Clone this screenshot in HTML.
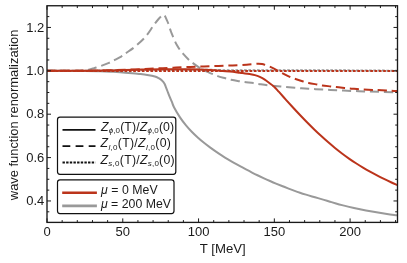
<!DOCTYPE html>
<html><head><meta charset="utf-8"><style>
html,body{margin:0;padding:0;background:#fff;}
svg{display:block;font-family:"Liberation Sans",sans-serif;}
</style></head><body>
<svg width="407" height="263" viewBox="0 0 407 263">
<rect width="407" height="263" fill="#fff"/>
<g fill="none" stroke-width="2.0" stroke-linejoin="round">
<path d="M47.00 70.85 C53.33 70.87 76.17 70.88 85.00 70.95 C93.83 71.03 95.83 71.17 100.00 71.30 C104.17 71.42 106.67 71.53 110.00 71.70 C113.33 71.87 116.33 72.05 120.00 72.30 C123.67 72.55 128.73 72.92 132.00 73.20 C135.27 73.48 137.07 73.70 139.60 74.00 C142.13 74.30 144.66 74.58 147.20 75.00 C149.74 75.42 152.94 75.97 154.85 76.50 C156.76 77.03 157.51 77.57 158.65 78.20 C159.79 78.83 160.74 79.43 161.70 80.30 C162.66 81.17 163.70 82.25 164.40 83.40 C165.10 84.55 165.40 85.93 165.90 87.20 C166.40 88.47 166.78 89.43 167.40 91.00 C168.02 92.57 168.85 94.78 169.60 96.60 C170.35 98.42 171.17 100.13 171.90 101.90 C172.63 103.67 172.65 104.67 174.00 107.24 C175.35 109.82 178.00 114.32 180.00 117.33 C182.00 120.35 184.00 122.88 186.00 125.31 C188.00 127.75 190.00 129.88 192.00 131.93 C194.00 133.99 196.00 135.84 198.00 137.64 C200.00 139.44 202.00 141.10 204.00 142.71 C206.00 144.33 208.00 145.85 210.00 147.33 C212.00 148.80 214.00 150.21 216.00 151.59 C218.00 152.96 220.00 154.28 222.00 155.56 C224.00 156.85 226.00 158.10 228.00 159.31 C230.00 160.53 232.00 161.71 234.00 162.86 C236.00 164.02 238.00 165.14 240.00 166.24 C242.00 167.34 244.00 168.41 246.00 169.46 C248.00 170.51 250.00 171.54 252.00 172.54 C254.00 173.55 256.00 174.53 258.00 175.49 C260.00 176.45 262.00 177.39 264.00 178.31 C266.00 179.23 268.00 180.12 270.00 181.00 C272.00 181.88 274.00 182.75 276.00 183.59 C278.00 184.43 280.00 185.25 282.00 186.05 C284.00 186.86 286.00 187.64 288.00 188.41 C290.00 189.17 292.00 189.91 294.00 190.63 C296.00 191.34 298.00 192.04 300.00 192.70 C302.00 193.37 304.00 194.00 306.00 194.62 C308.00 195.24 310.00 195.83 312.00 196.42 C314.00 197.00 316.00 197.57 318.00 198.15 C320.00 198.73 322.00 199.31 324.00 199.90 C326.00 200.49 328.00 201.09 330.00 201.68 C332.00 202.27 334.00 202.87 336.00 203.44 C338.00 204.01 340.00 204.57 342.00 205.10 C344.00 205.63 346.00 206.14 348.00 206.62 C350.00 207.10 352.00 207.56 354.00 208.01 C356.00 208.45 358.00 208.87 360.00 209.28 C362.00 209.69 364.00 210.08 366.00 210.46 C368.00 210.84 370.00 211.20 372.00 211.56 C374.00 211.91 376.00 212.25 378.00 212.58 C380.00 212.90 382.00 213.22 384.00 213.52 C386.00 213.82 388.00 214.11 390.00 214.39 C392.00 214.67 394.75 215.02 396.00 215.18 C397.25 215.35 397.25 215.34 397.50 215.37" stroke="#999999"/>
<path d="M47.00 70.80 C51.67 70.80 69.17 70.83 75.00 70.80 C80.83 70.77 80.00 70.70 82.00 70.60 C84.00 70.50 85.00 70.60 87.00 70.20 C89.00 69.80 91.67 68.92 94.00 68.20 C96.33 67.48 98.52 66.78 101.00 65.90 C103.48 65.02 106.77 63.82 108.90 62.90 C111.03 61.98 111.75 61.45 113.80 60.40 C115.85 59.35 119.25 57.75 121.20 56.60 C123.15 55.45 123.42 54.98 125.50 53.50 C127.58 52.02 131.78 49.12 133.70 47.70 C135.62 46.28 135.33 46.50 137.00 45.00 C138.67 43.50 142.03 40.37 143.70 38.70 C145.37 37.03 145.53 36.95 147.00 35.00 C148.47 33.05 151.17 28.92 152.50 27.00 C153.83 25.08 153.92 24.92 155.00 23.50 C156.08 22.08 157.72 19.98 159.00 18.50 C160.28 17.02 162.08 15.25 162.70 14.60 C163.03 14.77 164.08 14.83 164.70 15.60 C165.32 16.37 165.83 17.97 166.40 19.20 C166.97 20.43 167.57 21.60 168.10 23.00 C168.63 24.40 169.10 26.10 169.60 27.60 C170.10 29.10 170.58 30.62 171.10 32.00 C171.62 33.38 172.10 34.45 172.70 35.90 C173.30 37.35 173.98 39.13 174.70 40.70 C175.42 42.27 176.12 43.75 177.00 45.30 C177.88 46.85 179.00 48.60 180.00 50.00 C181.00 51.40 181.70 52.23 183.00 53.70 C184.30 55.17 186.35 57.38 187.80 58.80 C189.25 60.22 189.85 60.78 191.70 62.20 C193.55 63.62 196.58 65.80 198.90 67.30 C201.22 68.80 203.37 70.10 205.60 71.20 C207.83 72.30 210.28 73.08 212.30 73.90 C214.32 74.72 215.50 75.37 217.70 76.10 C219.90 76.83 223.28 77.68 225.50 78.30 C227.72 78.92 228.78 79.32 231.00 79.80 C233.22 80.28 236.53 80.83 238.80 81.20 C241.07 81.57 242.17 81.68 244.60 82.00 C247.03 82.32 251.07 82.78 253.40 83.10 C255.73 83.42 256.15 83.53 258.60 83.90 C261.05 84.27 264.42 84.87 268.10 85.30 C271.78 85.73 276.23 86.08 280.70 86.50 C285.17 86.92 290.25 87.42 294.90 87.80 C299.55 88.18 303.92 88.50 308.60 88.80 C313.28 89.10 318.32 89.35 323.00 89.60 C327.68 89.85 332.07 90.08 336.70 90.30 C341.33 90.52 346.18 90.72 350.80 90.90 C355.42 91.08 359.83 91.25 364.40 91.40 C368.97 91.55 373.53 91.67 378.20 91.80 C382.87 91.93 389.18 92.12 392.40 92.20 C395.62 92.28 396.65 92.28 397.50 92.30" stroke="#999999" stroke-dasharray="9.1 4.88" id="gd" stroke-linejoin="miter" stroke-dashoffset="1.0"/>
<path d="M47 70.85 L100 70.6 L140 69.9 L210 69.8 L225 70.2 L330 70.25 L397.5 70.7" stroke="#999999" stroke-dasharray="2.7 1.61" stroke-dashoffset="1.2"/>
<path d="M47.00 70.85 C51.67 70.85 67.83 70.87 75.00 70.85 C82.17 70.83 85.00 70.80 90.00 70.75 C95.00 70.70 100.00 70.64 105.00 70.55 C110.00 70.46 115.00 70.33 120.00 70.20 C125.00 70.08 130.50 69.92 135.00 69.80 C139.50 69.68 142.83 69.58 147.00 69.50 C151.17 69.42 155.33 69.38 160.00 69.35 C164.67 69.32 170.00 69.30 175.00 69.30 C180.00 69.30 185.83 69.31 190.00 69.35 C194.17 69.39 196.67 69.44 200.00 69.55 C203.33 69.66 206.67 69.81 210.00 70.00 C213.33 70.19 216.67 70.43 220.00 70.70 C223.33 70.97 226.67 71.25 230.00 71.60 C233.33 71.95 237.50 72.50 240.00 72.80 C242.50 73.10 243.38 73.18 245.00 73.40 C246.62 73.62 248.05 73.82 249.70 74.10 C251.35 74.38 253.22 74.63 254.90 75.10 C256.58 75.57 258.16 76.15 259.80 76.90 C261.44 77.65 263.10 78.53 264.75 79.60 C266.40 80.67 268.06 82.03 269.70 83.30 C271.34 84.57 273.05 85.76 274.60 87.20 C276.15 88.64 277.10 89.85 279.00 91.95 C280.90 94.05 283.67 97.22 286.00 99.81 C288.33 102.41 290.67 104.99 293.00 107.53 C295.33 110.07 297.67 112.58 300.00 115.04 C302.33 117.50 304.67 119.93 307.00 122.29 C309.33 124.66 311.67 126.98 314.00 129.24 C316.33 131.50 318.67 133.71 321.00 135.85 C323.33 138.00 325.67 140.08 328.00 142.10 C330.33 144.12 332.67 146.08 335.00 147.97 C337.33 149.87 339.67 151.69 342.00 153.46 C344.33 155.22 346.67 156.92 349.00 158.56 C351.33 160.19 353.67 161.76 356.00 163.28 C358.33 164.79 360.67 166.24 363.00 167.64 C365.33 169.04 367.67 170.38 370.00 171.68 C372.33 172.98 374.67 174.22 377.00 175.42 C379.33 176.63 381.67 177.79 384.00 178.92 C386.33 180.05 388.75 181.18 391.00 182.22 C393.25 183.27 396.42 184.68 397.50 185.17" stroke="#bb341b"/>
<path d="M47.00 70.85 C52.50 70.84 71.17 70.86 80.00 70.80 C88.83 70.74 94.17 70.62 100.00 70.50 C105.83 70.38 110.00 70.25 115.00 70.10 C120.00 69.95 125.00 69.78 130.00 69.60 C135.00 69.42 140.83 69.18 145.00 69.00 C149.17 68.82 152.00 68.64 155.00 68.50 C158.00 68.36 159.50 68.32 163.00 68.15 C166.50 67.98 171.43 67.71 176.00 67.50 C180.57 67.29 185.73 67.07 190.40 66.90 C195.07 66.73 199.30 66.67 204.00 66.50 C208.70 66.33 213.82 66.08 218.60 65.90 C223.38 65.72 228.03 65.60 232.70 65.40 C237.37 65.20 242.73 64.95 246.60 64.70 C250.47 64.45 253.92 64.05 255.90 63.90 C257.88 63.75 257.48 63.77 258.50 63.80 C259.52 63.83 261.00 63.95 262.00 64.10 C263.00 64.25 263.23 64.28 264.50 64.70 C265.77 65.12 268.10 65.98 269.60 66.60 C271.10 67.22 272.14 67.73 273.50 68.40 C274.86 69.07 276.30 69.80 277.75 70.60 C279.20 71.40 280.11 72.10 282.20 73.20 C284.29 74.30 288.08 76.23 290.30 77.20 C292.52 78.17 293.33 78.28 295.50 79.00 C297.67 79.72 301.12 80.85 303.30 81.50 C305.48 82.15 306.32 82.40 308.60 82.90 C310.88 83.40 314.70 84.07 317.00 84.50 C319.30 84.93 320.10 85.18 322.40 85.50 C324.70 85.82 328.52 86.15 330.80 86.40 C333.08 86.65 333.80 86.73 336.10 87.00 C338.40 87.27 342.30 87.77 344.60 88.00 C346.90 88.23 347.53 88.18 349.90 88.40 C352.27 88.62 356.50 89.10 358.80 89.30 C361.10 89.50 361.40 89.50 363.70 89.60 C366.00 89.70 370.33 89.82 372.60 89.90 C374.87 89.98 375.00 90.00 377.30 90.10 C379.60 90.20 384.03 90.38 386.40 90.50 C388.77 90.62 389.65 90.72 391.50 90.80 C393.35 90.88 396.50 90.97 397.50 91.00" stroke="#bb341b" stroke-dasharray="9.1 4.88" id="rd" stroke-dashoffset="0.3"/>
<path d="M47 70.95 L397.5 70.9" stroke="#bb341b" stroke-dasharray="2.7 1.61"/>
</g>
<g stroke="#1a1a1a" stroke-width="1.35" fill="none">
<rect x="47.0" y="5.75" width="350.5" height="216.65"/>
<g stroke-width="1.0"><line x1="47.00" y1="222.40" x2="47.00" y2="218.40"/><line x1="47.00" y1="5.75" x2="47.00" y2="9.75"/><line x1="62.16" y1="222.40" x2="62.16" y2="220.10"/><line x1="62.16" y1="5.75" x2="62.16" y2="8.05"/><line x1="77.31" y1="222.40" x2="77.31" y2="220.10"/><line x1="77.31" y1="5.75" x2="77.31" y2="8.05"/><line x1="92.47" y1="222.40" x2="92.47" y2="220.10"/><line x1="92.47" y1="5.75" x2="92.47" y2="8.05"/><line x1="107.62" y1="222.40" x2="107.62" y2="220.10"/><line x1="107.62" y1="5.75" x2="107.62" y2="8.05"/><line x1="122.78" y1="222.40" x2="122.78" y2="218.40"/><line x1="122.78" y1="5.75" x2="122.78" y2="9.75"/><line x1="137.93" y1="222.40" x2="137.93" y2="220.10"/><line x1="137.93" y1="5.75" x2="137.93" y2="8.05"/><line x1="153.09" y1="222.40" x2="153.09" y2="220.10"/><line x1="153.09" y1="5.75" x2="153.09" y2="8.05"/><line x1="168.24" y1="222.40" x2="168.24" y2="220.10"/><line x1="168.24" y1="5.75" x2="168.24" y2="8.05"/><line x1="183.40" y1="222.40" x2="183.40" y2="220.10"/><line x1="183.40" y1="5.75" x2="183.40" y2="8.05"/><line x1="198.55" y1="222.40" x2="198.55" y2="218.40"/><line x1="198.55" y1="5.75" x2="198.55" y2="9.75"/><line x1="213.71" y1="222.40" x2="213.71" y2="220.10"/><line x1="213.71" y1="5.75" x2="213.71" y2="8.05"/><line x1="228.86" y1="222.40" x2="228.86" y2="220.10"/><line x1="228.86" y1="5.75" x2="228.86" y2="8.05"/><line x1="244.02" y1="222.40" x2="244.02" y2="220.10"/><line x1="244.02" y1="5.75" x2="244.02" y2="8.05"/><line x1="259.17" y1="222.40" x2="259.17" y2="220.10"/><line x1="259.17" y1="5.75" x2="259.17" y2="8.05"/><line x1="274.33" y1="222.40" x2="274.33" y2="218.40"/><line x1="274.33" y1="5.75" x2="274.33" y2="9.75"/><line x1="289.48" y1="222.40" x2="289.48" y2="220.10"/><line x1="289.48" y1="5.75" x2="289.48" y2="8.05"/><line x1="304.63" y1="222.40" x2="304.63" y2="220.10"/><line x1="304.63" y1="5.75" x2="304.63" y2="8.05"/><line x1="319.79" y1="222.40" x2="319.79" y2="220.10"/><line x1="319.79" y1="5.75" x2="319.79" y2="8.05"/><line x1="334.94" y1="222.40" x2="334.94" y2="220.10"/><line x1="334.94" y1="5.75" x2="334.94" y2="8.05"/><line x1="350.10" y1="222.40" x2="350.10" y2="218.40"/><line x1="350.10" y1="5.75" x2="350.10" y2="9.75"/><line x1="365.25" y1="222.40" x2="365.25" y2="220.10"/><line x1="365.25" y1="5.75" x2="365.25" y2="8.05"/><line x1="380.41" y1="222.40" x2="380.41" y2="220.10"/><line x1="380.41" y1="5.75" x2="380.41" y2="8.05"/><line x1="395.56" y1="222.40" x2="395.56" y2="220.10"/><line x1="395.56" y1="5.75" x2="395.56" y2="8.05"/><line x1="47.00" y1="211.81" x2="49.30" y2="211.81"/><line x1="397.50" y1="211.81" x2="395.20" y2="211.81"/><line x1="47.00" y1="200.96" x2="51.00" y2="200.96"/><line x1="397.50" y1="200.96" x2="393.50" y2="200.96"/><line x1="47.00" y1="190.12" x2="49.30" y2="190.12"/><line x1="397.50" y1="190.12" x2="395.20" y2="190.12"/><line x1="47.00" y1="179.27" x2="49.30" y2="179.27"/><line x1="397.50" y1="179.27" x2="395.20" y2="179.27"/><line x1="47.00" y1="168.43" x2="49.30" y2="168.43"/><line x1="397.50" y1="168.43" x2="395.20" y2="168.43"/><line x1="47.00" y1="157.58" x2="51.00" y2="157.58"/><line x1="397.50" y1="157.58" x2="393.50" y2="157.58"/><line x1="47.00" y1="146.74" x2="49.30" y2="146.74"/><line x1="397.50" y1="146.74" x2="395.20" y2="146.74"/><line x1="47.00" y1="135.89" x2="49.30" y2="135.89"/><line x1="397.50" y1="135.89" x2="395.20" y2="135.89"/><line x1="47.00" y1="125.05" x2="49.30" y2="125.05"/><line x1="397.50" y1="125.05" x2="395.20" y2="125.05"/><line x1="47.00" y1="114.20" x2="51.00" y2="114.20"/><line x1="397.50" y1="114.20" x2="393.50" y2="114.20"/><line x1="47.00" y1="103.35" x2="49.30" y2="103.35"/><line x1="397.50" y1="103.35" x2="395.20" y2="103.35"/><line x1="47.00" y1="92.51" x2="49.30" y2="92.51"/><line x1="397.50" y1="92.51" x2="395.20" y2="92.51"/><line x1="47.00" y1="81.66" x2="49.30" y2="81.66"/><line x1="397.50" y1="81.66" x2="395.20" y2="81.66"/><line x1="47.00" y1="70.82" x2="51.00" y2="70.82"/><line x1="397.50" y1="70.82" x2="393.50" y2="70.82"/><line x1="47.00" y1="59.98" x2="49.30" y2="59.98"/><line x1="397.50" y1="59.98" x2="395.20" y2="59.98"/><line x1="47.00" y1="49.13" x2="49.30" y2="49.13"/><line x1="397.50" y1="49.13" x2="395.20" y2="49.13"/><line x1="47.00" y1="38.28" x2="49.30" y2="38.28"/><line x1="397.50" y1="38.28" x2="395.20" y2="38.28"/><line x1="47.00" y1="27.44" x2="51.00" y2="27.44"/><line x1="397.50" y1="27.44" x2="393.50" y2="27.44"/><line x1="47.00" y1="16.60" x2="49.30" y2="16.60"/><line x1="397.50" y1="16.60" x2="395.20" y2="16.60"/></g>
</g>
<g fill="#1a1a1a" font-size="13" style="filter:grayscale(1)">
<text x="47.00" y="235.75" text-anchor="middle">0</text><text x="122.78" y="235.75" text-anchor="middle">50</text><text x="198.55" y="235.75" text-anchor="middle">100</text><text x="274.33" y="235.75" text-anchor="middle">150</text><text x="350.10" y="235.75" text-anchor="middle">200</text><text x="44.3" y="205.11" text-anchor="end">0.4</text><text x="44.3" y="161.73" text-anchor="end">0.6</text><text x="44.3" y="118.35" text-anchor="end">0.8</text><text x="44.3" y="74.97" text-anchor="end">1.0</text><text x="44.3" y="31.59" text-anchor="end">1.2</text>
<text x="222.8" y="253.4" text-anchor="middle" font-size="13.2">T [MeV]</text>
<text transform="translate(18.3,114.9) rotate(-90)" text-anchor="middle" font-size="12.9">wave function renormalization</text>
</g>
<g fill="#fff" stroke="#111" stroke-width="1.2">
<rect x="57.5" y="117.2" width="118.3" height="57.1" rx="2.5"/>
<rect x="57.5" y="179.8" width="116.5" height="33.8" rx="2.5"/>
</g>
<g stroke="#111" stroke-width="1.85" fill="none">
<path d="M62.5 129.85 H95.5"/>
<path d="M62.5 146.05 H95.5" stroke-dasharray="7.8 5.3"/>
<path d="M62.5 162.5 H95.5" stroke-dasharray="2.4 1.25"/>
</g>
<g stroke-width="2.6" fill="none">
<path d="M62.2 192.8 H96.9" stroke="#bb341b"/>
<path d="M62.2 205.85 H96.9" stroke="#999999"/>
</g>
<g fill="#1a1a1a" style="filter:grayscale(1)">
<text x="101.00" y="131.00" font-size="12.3" letter-spacing="0.12"><tspan font-style="italic">Z</tspan><tspan font-size="8" dy="2.1" font-style="italic">&#981;</tspan><tspan font-size="8">,0</tspan><tspan dy="-2.1">(T)/</tspan><tspan font-style="italic">Z</tspan><tspan font-size="8" dy="2.1" font-style="italic">&#981;</tspan><tspan font-size="8">,0</tspan><tspan dy="-2.1">(0)</tspan></text>
<text x="100.60" y="147.40" font-size="12.3" letter-spacing="0.30"><tspan font-style="italic">Z</tspan><tspan font-size="8" dy="2.1" font-style="italic">l</tspan><tspan font-size="8">,0</tspan><tspan dy="-2.1">(T)/</tspan><tspan font-style="italic">Z</tspan><tspan font-size="8" dy="2.1" font-style="italic">l</tspan><tspan font-size="8">,0</tspan><tspan dy="-2.1">(0)</tspan></text>
<text x="100.60" y="164.00" font-size="12.3" letter-spacing="0.25"><tspan font-style="italic">Z</tspan><tspan font-size="8" dy="2.1" font-style="italic">s</tspan><tspan font-size="8">,0</tspan><tspan dy="-2.1">(T)/</tspan><tspan font-style="italic">Z</tspan><tspan font-size="8" dy="2.1" font-style="italic">s</tspan><tspan font-size="8">,0</tspan><tspan dy="-2.1">(0)</tspan></text>
<text x="100.9" y="194.4" font-size="12.3" letter-spacing="0.06"><tspan font-style="italic">&#956;</tspan> = 0 MeV</text>
<text x="100.9" y="207.6" font-size="12.3" letter-spacing="0.02"><tspan font-style="italic">&#956;</tspan> = 200 MeV</text>
</g>
</svg>
</body></html>
